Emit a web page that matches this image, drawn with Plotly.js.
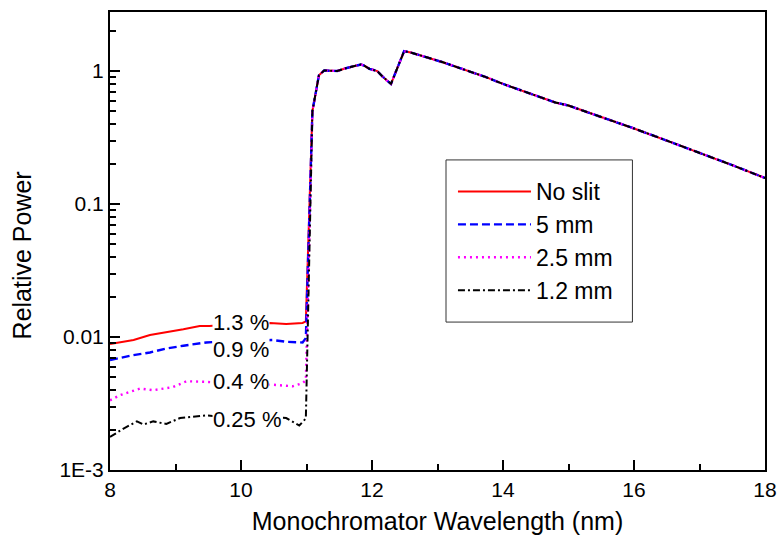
<!DOCTYPE html>
<html>
<head>
<meta charset="utf-8">
<script src="https://cdn.plot.ly/plotly-3.0.1.min.js"></script>
<style>html,body{margin:0;padding:0;background:#fff}#chart{width:777px;height:544px}</style>
</head>
<body>
<div id="chart"></div>
<script>
// ---- data ----
var highWl  = [11.09, 11.19, 11.27, 11.47, 11.60, 11.83, 11.88, 11.96, 12.08, 12.16, 12.21, 12.29, 12.49, 12.59, 13.07, 13.50, 13.74, 14.00, 14.30, 14.65, 14.80, 15.00, 15.46, 15.73, 16.00, 16.50, 17.00, 17.50, 18.00];
var highPow = [0.50, 0.93, 1.01, 1.00, 1.05, 1.12, 1.10, 1.04, 1.00, 0.91, 0.86, 0.80, 1.41, 1.38, 1.17, 0.99, 0.90, 0.80, 0.71, 0.61, 0.58, 0.55, 0.46, 0.41, 0.37, 0.30, 0.243, 0.196, 0.157];

var noSlitWl  = [8.00, 8.36, 8.61, 8.86, 9.12, 9.37, 9.52, 9.80, 10.10, 10.44, 10.69, 10.94, 10.99];
var noSlitPow = [0.00885, 0.0095, 0.01035, 0.0108, 0.01143, 0.0121, 0.0121, 0.0124, 0.0126, 0.01276, 0.01254, 0.01276, 0.0131];

var slit5Wl  = [8.00, 8.35, 8.61, 8.86, 9.12, 9.47, 9.80, 10.10, 10.48, 10.69, 10.94, 10.99];
var slit5Pow = [0.0067, 0.0073, 0.00765, 0.0082, 0.0086, 0.0091, 0.0093, 0.0094, 0.0095, 0.0092, 0.0091, 0.0098];

var slit25Wl  = [8.00, 8.15, 8.46, 8.66, 8.96, 9.17, 9.47, 9.80, 10.10, 10.48, 10.79, 10.94, 10.99];
var slit25Pow = [0.00334, 0.00365, 0.0041, 0.00398, 0.0042, 0.00465, 0.0046, 0.0045, 0.0044, 0.00438, 0.00426, 0.0045, 0.00473];

var slit12Wl  = [8.00, 8.20, 8.41, 8.51, 8.66, 8.86, 9.07, 9.27, 9.47, 9.80, 10.10, 10.40, 10.69, 10.89, 10.99];
var slit12Pow = [0.00177, 0.00204, 0.00232, 0.0022, 0.00232, 0.00222, 0.00246, 0.0025, 0.00257, 0.0025, 0.0025, 0.0025, 0.00246, 0.00216, 0.00244];

var seriesNames = ['No slit', '5 mm', '2.5 mm', '1.2 mm'];

var pctText  = ['1.3 %', '0.9 %', '0.4 %', '0.25 %'];
var pctWl    = [9.55, 9.55, 9.55, 9.55];
var pctValue = [0.0128, 0.0080, 0.00459, 0.00241];

var xMajorTicks = [8, 10, 12, 14, 16, 18];
var xMinorTicks = [9, 11, 13, 15, 17];
var yMajorTicks = [0.001, 0.01, 0.1, 1];
var yMajorText  = ['1E-3', '0.01', '0.1', '1'];
var yMinorMantissa = [2, 3, 4, 5, 6, 7, 8, 9];

// ---- build ----
var FONT = 'Liberation Sans, Arial, Helvetica, sans-serif';
var lows = [[noSlitWl, noSlitPow], [slit5Wl, slit5Pow], [slit25Wl, slit25Pow], [slit12Wl, slit12Pow]];
var styles = [
  {color: '#ff0000', width: 2, dash: 'solid'},
  {color: '#0000ff', width: 2.4, dash: '8px,4px'},
  {color: '#ff00ff', width: 2.4, dash: '2px,4px'},
  {color: '#000000', width: 2, dash: '7px,3px,2px,3px'}
];
var traces = lows.map(function (lw, i) {
  return {
    x: lw[0].concat(highWl),
    y: lw[1].concat(highPow),
    type: 'scatter', mode: 'lines',
    name: seriesNames[i],
    legendgroup: 'g' + i,
    line: styles[i]
  };
});
traces.push({x: [], y: [], xaxis: 'x2', yaxis: 'y2', type: 'scatter', mode: 'lines', showlegend: false, hoverinfo: 'skip'});

var yMinorTicks = [];
yMajorTicks.forEach(function (d) {
  yMinorMantissa.forEach(function (m) { yMinorTicks.push(d * m); });
});

var annotations = pctText.map(function (t, i) {
  return {
    x: pctWl[i], y: Math.log10(pctValue[i]), xref: 'x', yref: 'y',
    text: t, showarrow: false, xanchor: 'left', yanchor: 'middle',
    bgcolor: '#ffffff', borderpad: 0,
    font: {family: FONT, size: 22, color: '#000'}
  };
});
annotations.push({
  xref: 'paper', yref: 'paper', x: -0.134, y: 0.469, xanchor: 'center', yanchor: 'middle',
  text: 'Relative Power', textangle: -90, showarrow: false,
  font: {family: FONT, size: 25, color: '#000'}
});

var layout = {
  width: 777, height: 544,
  margin: {l: 110, r: 12, t: 12, b: 74},
  paper_bgcolor: '#fff', plot_bgcolor: '#fff',
  font: {family: FONT, color: '#000'},
  showlegend: true,
  legend: {
    x: 0.5236, y: 0.655, xanchor: 'left', yanchor: 'top',
    bgcolor: 'rgba(0,0,0,0)', borderwidth: 0,
    font: {family: FONT, size: 23, color: '#000'},
    traceorder: 'grouped', tracegroupgap: 0, itemwidth: 73
  },
  shapes: [{
    type: 'rect', xref: 'paper', yref: 'paper',
    x0: 0.513, x1: 0.7976, y0: 0.323, y1: 0.677,
    line: {color: '#333', width: 1}, fillcolor: '#fff', layer: 'below'
  }],
  xaxis: {
    range: [8, 18], tickmode: 'array', tickvals: xMajorTicks,
    ticks: 'inside', ticklen: 10, tickwidth: 2, tickcolor: '#000', layer: 'above traces',
    showline: true, linewidth: 2, linecolor: '#000', mirror: true,
    showgrid: false, zeroline: false, ticklabeloverflow: 'allow',
    tickfont: {family: FONT, size: 21, color: '#000'},
    title: {text: 'Monochromator Wavelength (nm)', font: {family: FONT, size: 25, color: '#000'}, standoff: 12}
  },
  xaxis2: {
    range: [8, 18], overlaying: 'x', anchor: 'y', side: 'bottom',
    tickmode: 'array', tickvals: xMinorTicks,
    ticks: 'inside', ticklen: 6, tickwidth: 2, tickcolor: '#000', layer: 'above traces',
    showticklabels: false, showline: false, showgrid: false, zeroline: false
  },
  yaxis: {
    type: 'log', range: [-3, 0.444], tickmode: 'array', tickvals: yMajorTicks, ticktext: yMajorText,
    ticks: 'inside', ticklen: 10, tickwidth: 2, tickcolor: '#000', layer: 'above traces',
    showline: true, linewidth: 2, linecolor: '#000', mirror: true,
    showgrid: false, zeroline: false,
    tickfont: {family: FONT, size: 21, color: '#000'}
  },
  yaxis2: {
    type: 'log', range: [-3, 0.444], overlaying: 'y', anchor: 'x', side: 'left',
    tickmode: 'array', tickvals: yMinorTicks,
    ticks: 'inside', ticklen: 6, tickwidth: 2, tickcolor: '#000', layer: 'above traces',
    showticklabels: false, showline: false, showgrid: false, zeroline: false
  },
  annotations: annotations
};

Plotly.newPlot('chart', traces, layout, {staticPlot: true, displayModeBar: false});
</script>
</body>
</html>
